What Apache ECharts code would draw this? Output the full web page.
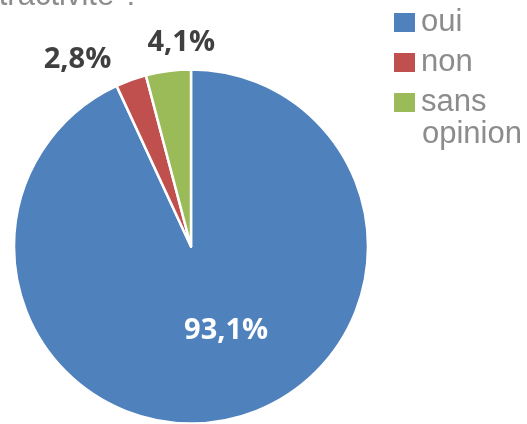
<!DOCTYPE html>
<html><head><meta charset="utf-8">
<script src="https://cdn.jsdelivr.net/npm/echarts@6/dist/echarts.min.js"></script>
<style>html,body{margin:0;padding:0;background:#fff}#c{width:527px;height:424px}</style>
</head><body><div id="c"></div>
<script>
const categories = ['oui', 'non', 'sans opinion'];
const values = [93.1, 2.8, 4.1];
const colors = ['#4f81bd', '#c0504d', '#9bbb59'];
const titleText = "l'attractivité ?";

const fmt = v => v.toFixed(1).replace('.', ',') + '%';
const labelCfg = [
  { color: '#ffffff', offset: [15.5, -5] },
  { color: '#404040', offset: [-82.5, -101] },
  { color: '#404040', offset: [2, -113] }
];
const legendFont = { fontSize: 31, fontFamily: 'Liberation Sans, Arial, sans-serif' };
const legendColor = '#8c8c8c';
// first word of each legend name goes next to the swatch; the rest wraps onto the next line
const firstWord = n => n.split(' ')[0];
const restWords = n => n.split(' ').slice(1).join(' ');

const chart = echarts.init(document.getElementById('c'), null, { renderer: 'canvas' });
chart.setOption({
  animation: false,
  graphic: [{
    type: 'text', x: 140, y: -4,
    style: Object.assign({ text: titleText, fill: legendColor, textAlign: 'right', textVerticalAlign: 'middle' }, legendFont)
  }, {
    type: 'text', x: 422, y: 134,
    style: Object.assign({ text: restWords(categories[2]), fill: legendColor, textAlign: 'left', textVerticalAlign: 'middle' }, legendFont)
  }],
  legend: {
    orient: 'vertical', left: 387, top: 1.5,
    itemWidth: 23, itemHeight: 21, itemGap: 8, itemTextGap: 12, icon: 'rect',
    formatter: firstWord,
    textStyle: Object.assign({ color: legendColor, lineHeight: 32 }, legendFont),
    data: categories
  },
  series: [{
    type: 'pie', center: [191, 246.5], radius: 177, startAngle: 90, clockwise: true,
    itemStyle: { borderColor: '#fff', borderWidth: 2.5 },
    labelLine: { show: false },
    data: categories.map((n, i) => ({
      name: n, value: values[i],
      itemStyle: { color: colors[i] },
      label: {
        show: true, position: 'inside', offset: labelCfg[i].offset,
        formatter: fmt(values[i]), color: labelCfg[i].color,
        fontSize: 29, fontWeight: 'bold', fontFamily: 'Open Sans, sans-serif'
      }
    }))
  }]
});
</script></body></html>
